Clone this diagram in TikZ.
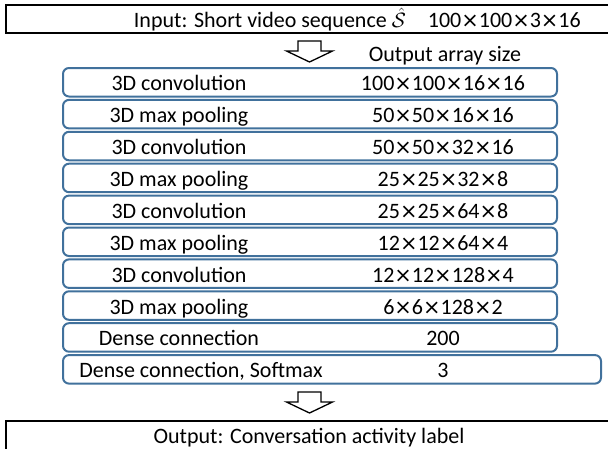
\documentclass[tikz,border=0pt]{standalone}
\usepackage{fontspec}
\setmainfont{Carlito}
\newfontfamily\crossfont{DejaVu Sans}[Scale=0.95]
\usepackage{tikz}
\usetikzlibrary{positioning}
\definecolor{layerblue}{HTML}{41719C}
\newcommand{\by}{{\crossfont\char"00D7}}
\tikzset{
  framebox/.style={
    draw=black,
    line width=1.6pt,
    minimum width=606pt,
    inner sep=0pt,
    outer sep=0pt
  },
  layerbox/.style={
    draw=layerblue,
    line width=2pt,
    rounded corners=6pt,
    minimum width=494pt,
    minimum height=28.5pt,
    inner sep=0pt,
    outer sep=0pt
  },
  layertext/.style={
    anchor=base,
    inner sep=0pt,
    font=\fontsize{22}{26}\selectfont
  },
  leftlabel/.style={layertext, xshift=-131pt, yshift=-8.5pt},
  rightlabel/.style={layertext, xshift=133pt, yshift=-8.5pt},
  hollowarrow/.pic={
    \draw[line width=1.3pt, fill=white, line join=miter]
      (-11.5,0) -- (11.5,0) -- (11.5,10) -- (23,10) -- (0,21)
      -- (-23,10) -- (-11.5,10) -- cycle;
  }
}

\begin{document}
\begin{tikzpicture}[x=1pt, y=-1pt, node distance=3.4pt]
    \useasboundingbox (0,0) rectangle (608,448);
    \clip (0,0) rectangle (608,448);

    % input
    \node[framebox, minimum height=28pt] (inputbox) at (309,19) {};
    \node[layertext, anchor=base east] (inputtext) at (581,27.5)
        {Input: Short video sequence $\hat{\mathcal{S}}$\hspace{22pt}100\by100\by3\by16};
    \pic at (309.5,41) {hollowarrow};
    \node[layertext] (sizehead) at (445,61.5) {Output array size};

    % layers
    \node[layerbox] (conv1) at (310,82.25) {};
    \node[layerbox, below=of conv1] (pool1) {};
    \node[layerbox, below=of pool1] (conv2) {};
    \node[layerbox, below=of conv2] (pool2) {};
    \node[layerbox, below=of pool2] (conv3) {};
    \node[layerbox, below=of conv3] (pool3) {};
    \node[layerbox, below=of pool3] (conv4) {};
    \node[layerbox, below=of conv4] (pool4) {};
    \node[layerbox, below=of pool4] (dense1) {};
    \node[layerbox, below=of dense1.south west, anchor=north west, minimum width=538pt] (dense2) {};

    \node[leftlabel] (conv1name) at (conv1) {3D convolution};
    \node[rightlabel] (conv1size) at (conv1) {100\by100\by16\by16};
    \node[leftlabel] (pool1name) at (pool1) {3D max pooling};
    \node[rightlabel] (pool1size) at (pool1) {50\by50\by16\by16};
    \node[leftlabel] (conv2name) at (conv2) {3D convolution};
    \node[rightlabel] (conv2size) at (conv2) {50\by50\by32\by16};
    \node[leftlabel] (pool2name) at (pool2) {3D max pooling};
    \node[rightlabel] (pool2size) at (pool2) {25\by25\by32\by8};
    \node[leftlabel] (conv3name) at (conv3) {3D convolution};
    \node[rightlabel] (conv3size) at (conv3) {25\by25\by64\by8};
    \node[leftlabel] (pool3name) at (pool3) {3D max pooling};
    \node[rightlabel] (pool3size) at (pool3) {12\by12\by64\by4};
    \node[leftlabel] (conv4name) at (conv4) {3D convolution};
    \node[rightlabel] (conv4size) at (conv4) {12\by12\by128\by4};
    \node[leftlabel] (pool4name) at (pool4) {3D max pooling};
    \node[rightlabel] (pool4size) at (pool4) {6\by6\by128\by2};
    \node[leftlabel] (dense1name) at (dense1) {Dense connection};
    \node[rightlabel] (dense1size) at (dense1) {200};
    \node[leftlabel] (dense2name) at (dense2) {Dense connection, Softmax};
    \node[rightlabel, xshift=-22pt] (dense2size) at (dense2) {3};

    % output
    \pic at (309.5,392) {hollowarrow};
    \node[framebox, minimum height=40pt] (outputbox) at (309,441) {};
    \node[layertext] (outputtext) at (309,443) {Output: Conversation activity label};
\end{tikzpicture}
\end{document}
